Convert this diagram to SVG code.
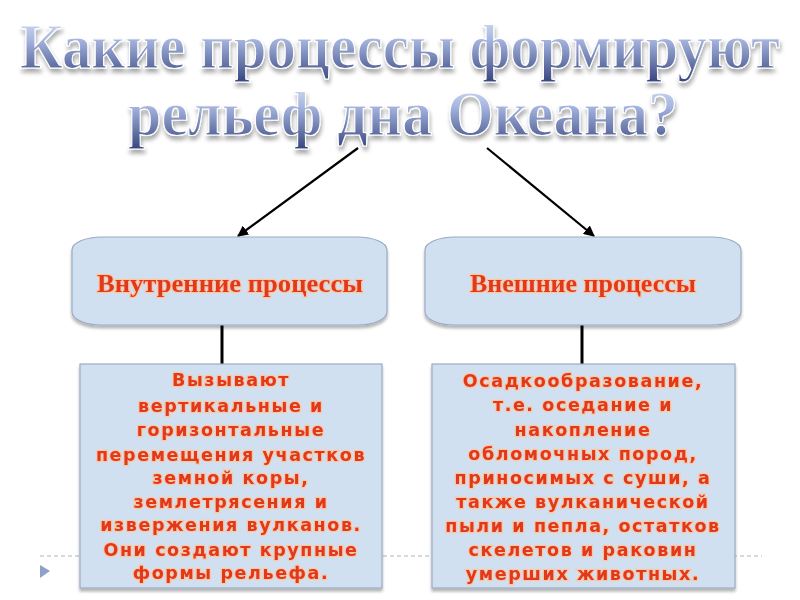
<svg xmlns="http://www.w3.org/2000/svg" width="800" height="600" viewBox="0 0 800 600">
<defs>
<linearGradient id="tg" x1="0" y1="0" x2="0" y2="1">
<stop offset="0" stop-color="#e4eaf8"/>
<stop offset="0.4" stop-color="#a7b7e0"/>
<stop offset="1" stop-color="#37457f"/>
</linearGradient>
<filter id="sh" x="-10%" y="-40%" width="120%" height="180%">
<feGaussianBlur in="SourceAlpha" stdDeviation="2"/>
<feOffset dx="1" dy="4" result="b"/>
<feComponentTransfer><feFuncA type="linear" slope="0.35"/></feComponentTransfer>
<feMerge><feMergeNode/><feMergeNode in="SourceGraphic"/></feMerge>
</filter>
<filter id="bsh" x="-5%" y="-5%" width="110%" height="115%">
<feGaussianBlur in="SourceAlpha" stdDeviation="1.5"/>
<feOffset dx="0" dy="3"/>
<feComponentTransfer><feFuncA type="linear" slope="0.3"/></feComponentTransfer>
<feMerge><feMergeNode/><feMergeNode in="SourceGraphic"/></feMerge>
</filter>
<marker id="ah" viewBox="0 0 10 10" refX="9" refY="5" markerWidth="5" markerHeight="5" orient="auto">
<path d="M0,0 L10,5 L0,10 z" fill="#000"/>
</marker>
</defs>
<style>
.title{font-family:"Liberation Serif",serif;font-weight:bold;fill:url(#tg);stroke:#ffffff;stroke-width:1;text-anchor:middle}
.box{fill:#d1e0f1;stroke:#9aaac4;stroke-width:1.2}
.h{font-family:"Liberation Serif",serif;font-weight:bold;font-size:26px;fill:#e2381c;text-anchor:middle;stroke:#f7c9a8;stroke-width:2.5;paint-order:stroke}
.t{font-family:"DejaVu Sans",sans-serif;font-weight:bold;font-size:17.5px;letter-spacing:1.6px;fill:#e2381c;text-anchor:middle;stroke:#f7c9a8;stroke-width:2.5;paint-order:stroke}
.con{stroke:#000;fill:none}
</style>
<rect width="800" height="600" fill="#ffffff"/>
<line x1="40" y1="556" x2="762" y2="556" stroke="#a9b3c4" stroke-width="1" stroke-dasharray="4,3"/>
<path d="M40,565 L50,571 L40,578 z" fill="#8ea2c6"/>
<g id="title" filter="url(#sh)">
<text class="title" x="0" y="0" font-size="56" transform="translate(400,68) scale(1,1.15)" textLength="760" lengthAdjust="spacingAndGlyphs">Какие процессы формируют</text>
<text class="title" x="0" y="0" font-size="56" transform="translate(403,135) scale(1,1.15)" textLength="550" lengthAdjust="spacingAndGlyphs">рельеф дна Океана?</text>
</g>
<g id="connectors">
<line class="con" x1="358" y1="148" x2="238" y2="236" stroke-width="2.2" marker-end="url(#ah)"/>
<line class="con" x1="487" y1="148" x2="594" y2="236" stroke-width="2.2" marker-end="url(#ah)"/>
<line class="con" x1="222" y1="324" x2="222" y2="366" stroke-width="3"/>
<line class="con" x1="582" y1="324" x2="582" y2="366" stroke-width="3"/>
</g>
<g id="internal" filter="url(#bsh)">
<rect class="box" x="72" y="237" width="315" height="88" rx="30" ry="13"/>
<text class="h" x="230" y="292" textLength="266" lengthAdjust="spacingAndGlyphs">Внутренние процессы</text>
</g>
<g id="external" filter="url(#bsh)">
<rect class="box" x="425" y="237" width="316" height="88" rx="30" ry="13"/>
<text class="h" x="583" y="292" textLength="226" lengthAdjust="spacingAndGlyphs">Внешние процессы</text>
</g>
<g id="internal-desc" filter="url(#bsh)">
<rect class="box" x="80" y="364" width="302" height="224"/>
<text class="t" x="231" y="386">Вызывают</text>
<text class="t" x="231" y="412">вертикальные и</text>
<text class="t" x="231" y="436">горизонтальные</text>
<text class="t" x="231" y="461">перемещения участков</text>
<text class="t" x="231" y="484">земной коры,</text>
<text class="t" x="231" y="508">землетрясения и</text>
<text class="t" x="231" y="531">извержения вулканов.</text>
<text class="t" x="231" y="556">Они создают крупные</text>
<text class="t" x="231" y="579">формы рельефа.</text>
</g>
<g id="external-desc" filter="url(#bsh)">
<rect class="box" x="432" y="364" width="303" height="224"/>
<text class="t" x="583" y="387">Осадкообразование,</text>
<text class="t" x="583" y="411">т.е. оседание и</text>
<text class="t" x="583" y="436">накопление</text>
<text class="t" x="583" y="460">обломочных пород,</text>
<text class="t" x="583" y="484">приносимых с суши, а</text>
<text class="t" x="583" y="508">также вулканической</text>
<text class="t" x="583" y="532">пыли и пепла, остатков</text>
<text class="t" x="583" y="556">скелетов и раковин</text>
<text class="t" x="583" y="580">умерших животных.</text>
</g>
</svg>
